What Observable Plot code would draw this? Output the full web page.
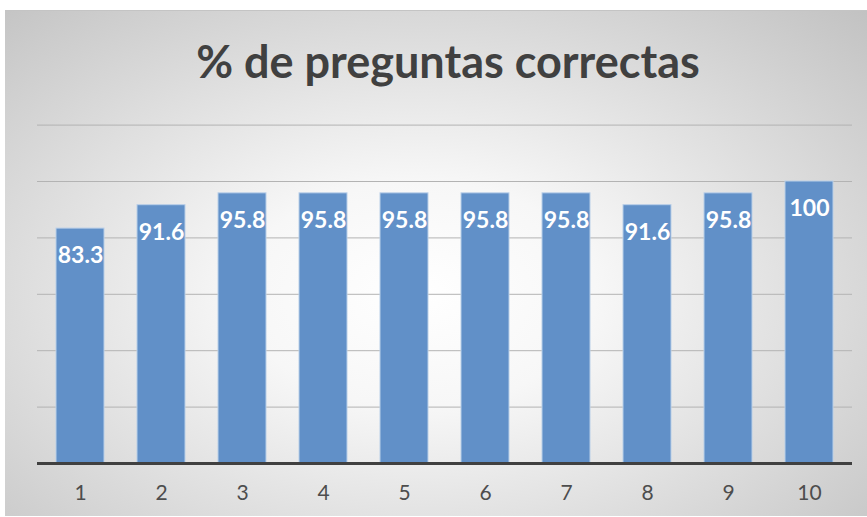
<!DOCTYPE html>
<html>
<head>
<meta charset="utf-8">
<script src="https://cdn.jsdelivr.net/npm/d3@7"></script>
<script src="https://cdn.jsdelivr.net/npm/@observablehq/plot@0.6"></script>
<style>
  html, body { margin: 0; padding: 0; background: #ffffff; }
  #frame {
    position: absolute; left: 5px; top: 10px; width: 862px; height: 505px;
    background: radial-gradient(ellipse farthest-corner at 48% 56%, #ffffff 0%, #f7f7f7 28%, #c2c2c2 100%);
    border-top: 1px solid #c4c4c4;
    overflow: hidden;
  }
  #title {
    position: absolute; left: 0; top: 25px; width: 886px; text-align: center;
    font-family: Lato, "Open Sans", sans-serif; font-weight: bold; font-size: 45px;
    color: #404040; line-height: 50px;
  }
  #chart { position: absolute; left: 0; top: 80px; }
</style>
</head>
<body>
<div id="frame">
  <div id="title">% de preguntas correctas</div>
  <div id="chart"></div>
</div>
<script>
const categories = ["1", "2", "3", "4", "5", "6", "7", "8", "9", "10"];
const values = [83.3, 91.6, 95.8, 95.8, 95.8, 95.8, 95.8, 91.6, 95.8, 100];
const gridTicks = [20, 40, 60, 80, 100, 120];

const data = categories.map((c, i) => ({cat: c, value: values[i]}));

const plot = Plot.plot({
  width: 862,
  height: 415,
  marginLeft: 32,
  marginRight: 15,
  marginTop: 33.6,
  marginBottom: 43,
  style: {background: "transparent", fontFamily: "Lato, 'Open Sans', sans-serif"},
  x: {domain: categories, paddingInner: 0.41, paddingOuter: 0.19, label: null},
  y: {domain: [0, 120], axis: null},
  marks: [
    Plot.ruleY(gridTicks, {stroke: "#b3b3b3", strokeWidth: 1}),
    Plot.barY(data, {x: "cat", y: "value", fill: "#6190c8", stroke: "#b9cfe8", strokeWidth: 1}),
    Plot.text(data, {x: "cat", y: "value", text: d => String(d.value), dy: 27,
      fill: "#ffffff", fontWeight: "bold", fontSize: 23}),
    Plot.ruleY([0], {stroke: "#404040", strokeWidth: 3}),
    Plot.axisX({tickSize: 0, tickPadding: 22, fontSize: 21, color: "#4d4d4d", label: null})
  ]
});
document.getElementById("chart").appendChild(plot);
</script>
</body>
</html>
